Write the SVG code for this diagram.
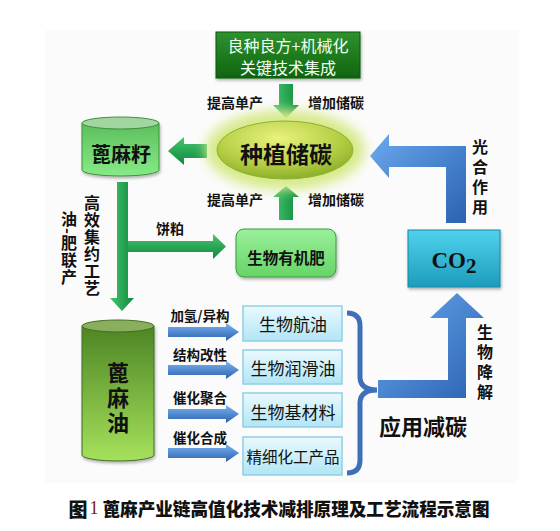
<svg xmlns="http://www.w3.org/2000/svg" width="560" height="531" viewBox="0 0 560 531">
<defs>
<linearGradient id="gTop" x1="0" y1="0" x2="0" y2="1"><stop offset="0" stop-color="#2f922f"/><stop offset="1" stop-color="#0f650f"/></linearGradient>
<radialGradient id="gEll" cx="0.45" cy="0.3" r="0.75"><stop offset="0" stop-color="#e9f27e"/><stop offset="0.6" stop-color="#b5cf45"/><stop offset="1" stop-color="#86a822"/></radialGradient>
<linearGradient id="gArrV" x1="0" y1="0" x2="1" y2="0"><stop offset="0" stop-color="#46c46e"/><stop offset="1" stop-color="#0d8a3c"/></linearGradient>
<linearGradient id="gArrH" x1="0" y1="0" x2="0" y2="1"><stop offset="0" stop-color="#46c46e"/><stop offset="1" stop-color="#0d8a3c"/></linearGradient>
<linearGradient id="gSeed" x1="0" y1="0" x2="0" y2="1"><stop offset="0" stop-color="#5cbf5c"/><stop offset="1" stop-color="#86ea86"/></linearGradient>
<linearGradient id="gOil" x1="0" y1="0" x2="0" y2="1"><stop offset="0" stop-color="#4d8524"/><stop offset="1" stop-color="#a6e15c"/></linearGradient>
<linearGradient id="gFert" x1="0" y1="0" x2="0" y2="1"><stop offset="0" stop-color="#9af09a"/><stop offset="1" stop-color="#66d466"/></linearGradient>
<linearGradient id="gCO2" x1="0" y1="0" x2="0" y2="1"><stop offset="0" stop-color="#4fd2ec"/><stop offset="1" stop-color="#1d9cbc"/></linearGradient>
<linearGradient id="gProd" x1="0" y1="0" x2="0" y2="1"><stop offset="0" stop-color="#eaf9fd"/><stop offset="1" stop-color="#b2e5f5"/></linearGradient>
<linearGradient id="gBlue" x1="0" y1="0" x2="1" y2="1"><stop offset="0" stop-color="#6aa9ee"/><stop offset="1" stop-color="#2b62b2"/></linearGradient>
<linearGradient id="gBlueS" x1="0" y1="0" x2="0" y2="1"><stop offset="0" stop-color="#79b4ee"/><stop offset="1" stop-color="#2c62b0"/></linearGradient>
<filter id="glow" x="-50%" y="-50%" width="200%" height="200%"><feGaussianBlur stdDeviation="6"/></filter>
<filter id="sh" x="-20%" y="-20%" width="140%" height="140%"><feDropShadow dx="1" dy="2" stdDeviation="1.5" flood-color="#000" flood-opacity="0.3"/></filter>
</defs>
<style>
text{font-family:"Noto Sans CJK SC","Noto Sans",sans-serif;fill:#111;text-anchor:middle;dominant-baseline:central}
.lbl{font-size:14px;font-weight:bold}
.sm{font-size:13.5px;font-weight:bold}
.prod{font-size:17px}
.vert{writing-mode:vertical-rl;text-anchor:start;font-size:16px;font-weight:bold}
.garr{fill:url(#gArrV)}
.garrh{fill:url(#gArrH)}
.barr{fill:url(#gBlueS)}
.pbox{fill:url(#gProd);stroke:#8fd0e5;stroke-width:1.5}
</style>
<rect x="45" y="30" width="473" height="453" fill="#fbfbfb"/>

<g id="connectors">
<polygon class="garr" points="279,84 293,84 293,105 299,105 286,118 273,105 279,105"/>
<polygon class="garr" points="279,220 293,220 293,197 299,197 286,186 273,197 279,197"/>
<polygon class="garrh" points="207,144 207,158 184,158 184,165 168,151 184,137 184,144"/>
<polygon class="garr" points="117,182 128,182 128,298 134,298 122,311 110,298 117,298"/>
<polygon class="garrh" points="128,241 213,241 213,234 226,246.5 213,259 213,252 128,252"/>
<path d="M446,223 L446,167 L389,167 L389,178 L370,156 L389,134 L389,146 L466,146 L466,223 Z" fill="url(#gBlue)"/>
<path d="M378,380 L448,380 L448,318 L430,318 L457,293 L484,318 L466,318 L466,398 L378,398 Z" fill="url(#gBlue)"/>
<polygon class="barr" points="168,327 226,327 226,323 239,332 226,341 226,337 168,337"/>
<polygon class="barr" points="168,365 226,365 226,361 239,370 226,379 226,375 168,375"/>
<polygon class="barr" points="168,409 226,409 226,405 239,414 226,423 226,419 168,419"/>
<polygon class="barr" points="168,448 226,448 226,444 239,453 226,462 226,458 168,458"/>
<path d="M347,313 Q360,313 360,326 L360,378 Q361,390 377,390 Q361,390 360,402 L360,460 Q360,473 347,473" fill="none" stroke="#3e70b8" stroke-width="5"/>
<text class="lbl" x="235" y="102">提高单产</text>
<text class="lbl" x="336" y="102">增加储碳</text>
<text class="lbl" x="235" y="199">提高单产</text>
<text class="lbl" x="336" y="199">增加储碳</text>
<text class="lbl" x="170" y="228">饼粕</text>
<text class="vert" x="92" y="195" letter-spacing="1">高效集约工艺</text>
<text class="vert" x="69" y="211" letter-spacing="1">油-肥联产</text>
<text class="vert" x="480" y="139" letter-spacing="4">光合作用</text>
<text class="vert" x="485" y="324" letter-spacing="4">生物降解</text>
<text class="sm" x="200" y="315">加氢/异构</text>
<text class="sm" x="200" y="354">结构改性</text>
<text class="sm" x="200" y="397">催化聚合</text>
<text class="sm" x="200" y="437">催化合成</text>
<text x="423" y="425" font-size="22" font-weight="bold">应用减碳</text>
</g>

<g id="tech">
<rect x="216" y="32" width="144" height="46" fill="url(#gTop)" stroke="#0b560b" filter="url(#sh)"/>
<text x="288" y="45" font-size="16" style="fill:#f2fff2">良种良方+机械化</text>
<text x="288" y="67" font-size="16" style="fill:#f2fff2">关键技术集成</text>
</g>

<g id="planting">
<ellipse cx="285" cy="150" rx="80" ry="40" fill="#d6ea8a" filter="url(#glow)"/>
<ellipse cx="285" cy="150" rx="68" ry="29" fill="url(#gEll)" stroke="#8fb032"/>
<text x="286" y="153" font-size="23" font-weight="bold">种植储碳</text>
</g>

<g id="seed">
<path d="M82,123 L82,170 A38.5,6 0 0 0 159,170 L159,123 Z" fill="url(#gSeed)" stroke="#3d8f3d" filter="url(#sh)"/>
<ellipse cx="120.5" cy="123" rx="38.5" ry="6" fill="#a2d6a0" stroke="#3d8f3d"/>
<text x="121" y="153" font-size="20" font-weight="bold">蓖麻籽</text>
</g>

<g id="fertilizer">
<rect x="236" y="229" width="100" height="48" rx="8" fill="url(#gFert)" stroke="#3f9a3f" filter="url(#sh)"/>
<text x="286" y="257" font-size="15.5" font-weight="bold">生物有机肥</text>
</g>

<g id="co2">
<rect x="408" y="230" width="92" height="57" fill="url(#gCO2)" stroke="#1a86a6" filter="url(#sh)"/>
<text x="454" y="260" font-size="23" font-weight="bold" style="font-family:'Liberation Serif',serif">CO<tspan font-size="21" dy="6">2</tspan></text>
</g>

<g id="oil">
<path d="M82,326 L82,455 A36,6 0 0 0 154,455 L154,326 Z" fill="url(#gOil)" stroke="#3f6f1f" filter="url(#sh)"/>
<ellipse cx="118" cy="326" rx="36" ry="6" fill="#88ae5e" stroke="#3f6f1f"/>
<text class="vert" x="118" y="362" letter-spacing="3" style="font-size:22px">蓖麻油</text>
</g>

<g id="p1"><rect class="pbox" x="243" y="306" width="99" height="35"/><text class="prod" x="293" y="323">生物航油</text></g>
<g id="p2"><rect class="pbox" x="243" y="350" width="99" height="34"/><text class="prod" x="293" y="367">生物润滑油</text></g>
<g id="p3"><rect class="pbox" x="243" y="393" width="99" height="34"/><text class="prod" x="293" y="411">生物基材料</text></g>
<g id="p4"><rect class="pbox" x="243" y="437" width="99" height="38"/><text class="prod" x="293" y="456" style="font-size:15.5px">精细化工产品</text></g>

<g id="caption">
<text x="78" y="508" font-size="19" font-weight="900">图</text>
<text x="94" y="508" font-size="18" style="fill:#7a1a1a;font-family:'Liberation Serif',serif">1</text>
<text x="296" y="508" font-size="18" font-weight="900" textLength="387" lengthAdjust="spacingAndGlyphs">蓖麻产业链高值化技术减排原理及工艺流程示意图</text>
</g>
</svg>
